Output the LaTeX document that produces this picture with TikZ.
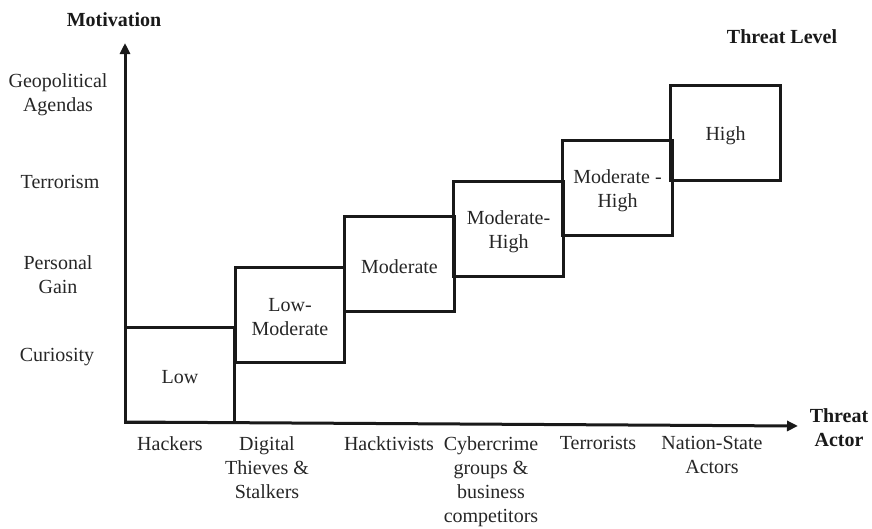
\documentclass[tikz,border=0pt]{standalone}
\usepackage{fontspec}
\setmainfont{Liberation Serif}
\usetikzlibrary{arrows.meta}
\newcommand\lblfont{\fontsize{20}{24}\selectfont}
\begin{document}
\begin{tikzpicture}[x=1pt,y=-1pt,
  lvl/.style={draw=black!90, line width=3pt, minimum width=109.5pt, minimum height=95pt, inner sep=0pt},
  lab/.style={inner sep=0pt, align=center, font=\lblfont, text=black!85},
  inlab/.style={lab, yshift=-3pt},
  blab/.style={inner sep=0pt, align=center, font=\lblfont\bfseries, text=black!90},
  actor/.style={lab, anchor=north},
  axis/.style={draw=black!90, line width=3pt, -{Triangle[length=11pt,width=10pt]}}
]
\useasboundingbox (0,0) rectangle (872,528);
% axes
\coordinate (O) at (125,422);
\coordinate (ytip) at (125,43);
\coordinate (xtip) at (798,426);
\draw[axis] (O) -- (ytip);
\draw[axis] (O) -- (xtip);
% level boxes
\node[lvl, label={[inlab]center:Low}] (b1) at (180,374.5) {};
\node[lvl, label={[inlab]center:{Low-\\Moderate}}] (b2) at (290,314.5) {};
\node[lvl, label={[inlab]center:Moderate}] (b3) at (399.5,263.5) {};
\node[lvl, label={[inlab]center:{Moderate-\\High}}] (b4) at (508.5,228.5) {};
\node[lvl, label={[inlab]center:{Moderate -\\High}}] (b5) at (617.5,187.5) {};
\node[lvl, label={[inlab]center:High}] (b6) at (725.5,133) {};
% axis titles
\node[blab] (mot) at (114,20) {Motivation};
\node[blab] (tl) at (782,37) {Threat Level};
\node[blab] (ta) at (839,428) {Threat\\Actor};
% motivations
\node[lab] (m4) at (58,95) {Geopolitical\\Agendas};
\node[lab] (m3) at (60,182) {Terrorism};
\node[lab] (m2) at (58,275) {Personal\\Gain};
\node[lab] (m1) at (57,357) {Curiosity};
% actors
\node[actor] (a1) at (170,436) {Hackers};
\node[actor] (a2) at (267,436) {Digital\\Thieves \&\\Stalkers};
\node[actor] (a3) at (389,436) {Hacktivists};
\node[actor] (a4) at (491,436) {Cybercrime\\groups \&\\business\\competitors};
\node[actor] (a5) at (598,436) {Terrorists};
\node[actor] (a6) at (712,436) {Nation-State\\Actors};
\end{tikzpicture}
\end{document}
